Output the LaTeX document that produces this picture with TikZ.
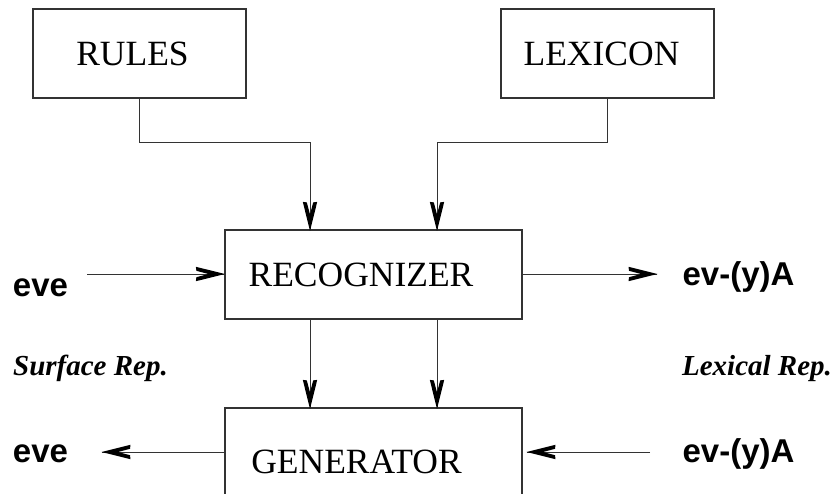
\documentclass[tikz,border=0pt]{standalone}
\usepackage{fontspec}
\setmainfont{Liberation Serif}
\newfontfamily\helv{Liberation Sans}
\tikzset{
  box/.style={draw=black!80, line width=1.2pt, minimum width=#1, inner sep=0pt},
  boxtext/.style={anchor=base, inner sep=0pt, font=\fontsize{35.5}{40}\selectfont},
  word/.style={anchor=base, inner sep=0pt, font=\helv\bfseries\fontsize{33}{38}\selectfont},
  rep/.style={anchor=base, inner sep=0pt, font=\bfseries\itshape\fontsize{29}{34}\selectfont},
  conn/.style={draw=black!80, line width=1pt},
  head/.pic={\fill[black] (0.5,0) -- (-28.5,-7.2) -- (-28,-3.2) -- (-16,0) -- (-28,3.2) -- (-28.5,7.2) -- cycle;},
  tip/.style={pos=1, sloped, allow upside down}
}
\begin{document}
\begin{tikzpicture}[x=1pt,y=-1pt]
\useasboundingbox (0,0) rectangle (835,493);
% boxes
\node[box=213pt, minimum height=89pt] (rules) at (139.5,53.5) {};
\node[box=213pt, minimum height=89pt] (lex) at (607.5,53.5) {};
\node[box=297pt, minimum height=89pt] (rec) at (373.5,274.5) {};
\node[box=297pt, minimum height=100pt] (gen) at (373.5,458) {};
% box texts
\node[boxtext] (rulest) at (132.5,65) {RULES};
\node[boxtext] (lext) at (601.5,65) {LEXICON};
\node[boxtext] (rect) at (361,286) {RECOGNIZER};
\node[boxtext] (gent) at (356.5,473) {GENERATOR};
% outer words
\node[word] (evein) at (40.5,296) {eve};
\node[word] (lexout) at (738.5,285) {ev-(y)A};
\node[word] (eveout) at (40.5,462) {eve};
\node[word] (lexin) at (738.5,462) {ev-(y)A};
\node[rep] (surf) at (90.5,375) {Surface Rep.};
\node[rep] (lexrep) at (757,375) {Lexical Rep.};
% free ends
\coordinate (a1) at (87,274);
\coordinate (a1t) at (222,274);
\coordinate (a2) at (657,274);
\coordinate (a3) at (102,452);
\coordinate (a4) at (650,452);
\coordinate (a4t) at (527,452);
% connectors from top boxes
\draw[conn] (rules.south -| 139,0) |- (310,142) -- ([yshift=-1pt]rec.north -| 310,0) pic[tip]{head};
\draw[conn] (lex.south -| 607,0) |- (437,142) -- ([yshift=-1pt]rec.north -| 437,0) pic[tip]{head};
% recognizer to generator
\draw[conn] (rec.south -| 310,0) -- ([yshift=-1pt]gen.north -| 310,0) pic[tip]{head};
\draw[conn] (rec.south -| 437,0) -- ([yshift=-1pt]gen.north -| 437,0) pic[tip]{head};
% horizontal
\draw[conn] (a1) -- (rec.west |- a1t) pic[tip]{head};
\draw[conn] (rec.east |- a2) -- (a2) pic[tip]{head};
\draw[conn] (gen.west |- a3) -- (a3) pic[tip]{head};
\draw[conn] (a4) -- (a4t) pic[tip]{head};
\end{tikzpicture}
\end{document}
